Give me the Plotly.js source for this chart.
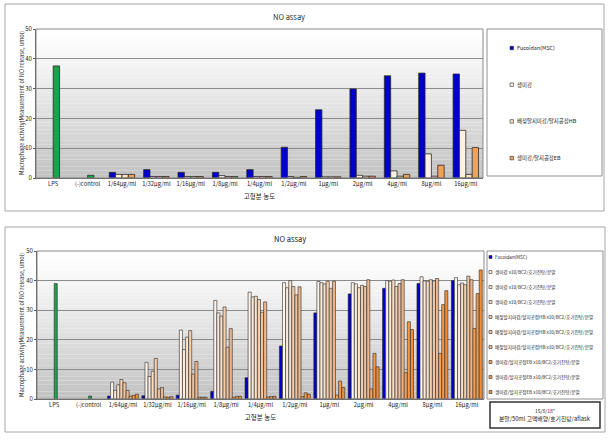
<!DOCTYPE html>
<html><head><meta charset="utf-8">
<script src="https://cdn.plot.ly/plotly-3.0.1.min.js"></script>
<style>html,body{margin:0;padding:0;background:#fff}#chart{width:614px;height:440px}</style>
</head><body><div id="chart"></div>
<script>
// ---------- data ----------
const categories = ["LPS","(-)control","1/64μg/ml","1/32μg/ml","1/16μg/ml","1/8μg/ml","1/4μg/ml","1/2μg/ml","1μg/ml","2μg/ml","4μg/ml","8μg/ml","16μg/ml"];

// top chart
const topControl   = [37.6, 0.9, null,null,null,null,null,null,null,null,null,null,null];
const topFucoidan  = [null,null, 1.9, 2.8, 1.9, 1.9, 2.8, 10.3, 22.9, 29.9, 34.3, 35.2, 34.9];
const topRaw       = [null,null, 1.2, 0.5, 0.5, 0.8, 0.5, 0.5, 0.4, 0.9, 2.4, 8.1, 16.0];
const topHB        = [null,null, 1.2, 0.5, 0.5, 0.5, 0.5, 0.2, 0.4, 0.6, 0.6, 0.6, 1.2];
const topEB        = [null,null, 1.2, 0.5, 0.5, 0.5, 0.5, 0.5, 0.4, 0.6, 1.2, 4.3, 10.2];
const topNames = ["Fucoidan(MSC)","생미강","배젖탈지미강/탈지공정HB","생미강/탈지공정EB"];

// bottom chart
const botControl  = [39.0, 1.0, null,null,null,null,null,null,null,null,null,null,null];
const botFucoidan = [null,null, 1.0, 1.1, 1.3, 2.6, 7.2, 17.9, 29.1, 35.5, 37.4, 39.0, 40.0];
const botRaw1     = [null,null, 5.7,12.4,23.3,33.3,36.1, 39.3, 39.7, 39.3, 40.0, 41.3, 41.0];
const botRaw2     = [null,null, 2.9, 7.6,16.7,29.1,34.5, 37.6, 39.3, 38.9, 39.8, 39.9, 38.6];
const botRaw3     = [null,null, 4.8, 9.4,20.9,28.0,34.7, 40.0, 38.9, 37.6, 40.2, 39.8, 39.2];
const botHB1      = [null,null, 6.6,13.7,23.1,31.1,33.6, 38.0, 39.8, 38.4, 38.0, 40.3, 38.6];
const botHB2      = [null,null, 5.5, 3.4, 8.4,17.5,29.3, 35.2, 37.4, 38.0, 39.0, 39.9, 41.5];
const botHB3      = [null,null, 2.9, 3.9,12.7,23.8,32.8, 37.9, 39.8, 40.3, 40.3, 40.7, 40.3];
const botEB1      = [null,null, 1.0, 0.7, 0.6, 0.6, 0.7, 0.8, 1.3, 3.4, 8.9, 15.4, 23.8];
const botEB2      = [null,null, 1.2, 0.6, 0.6, 0.9, 0.9, 2.1, 6.1, 15.4, 26.1, 31.9, 35.6];
const botEB3      = [null,null, 1.6, 0.8, 0.6, 0.9, 0.9, 1.6, 3.9, 10.9, 23.5, 36.6, 43.6];
const botNames = ["Fucoidan(MSC)",
  "생미강 x10/BC2/호기진탕/분말","생미강 x10/BC2/호기진탕/분말","생미강 x10/BC2/호기진탕/분말",
  "배젖탈지미강/탈지공정HB x10/BC2/호기진탕/분말","배젖탈지미강/탈지공정HB x10/BC2/호기진탕/분말","배젖탈지미강/탈지공정HB x10/BC2/호기진탕/분말",
  "생미강/탈지공정EB x10/BC2/호기진탕/분말","생미강/탈지공정EB x10/BC2/호기진탕/분말","생미강/탈지공정EB x10/BC2/호기진탕/분말"];

const chartTitle = "NO assay";
const xTitle = "고형분 농도";
const yTitle = "Macrophage activity(Measurement of NO release, umol)";
const noteLines = ['15/8/18"', '분말/50ml 고액배양/호기진탕/aflask'];

// ---------- styling ----------
const W = 614, H = 440;
const px = x => x / W, py = y => 1 - y / H;
const FONT = "'Noto Sans CJK KR', 'Noto Sans', sans-serif";
const green = "#1aa34a";
const topColors = ["#0000cc", "#fdf0e4", "#fbe0c8", "#f5a057"];
const botColors = ["#0000c8", "#fdf4ea", "#fbebdc", "#f8e0ca", "#f3cfae", "#efc39e", "#ebb68e", "#f5a35a", "#f2984a", "#ee8e3c"];

const traces = [];
function addBar(y, color, xa, ya, offset, width, name, lineW) {
  traces.push({
    type: "bar", x: categories, y: y, name: name, xaxis: xa, yaxis: ya,
    offset: offset, width: width, showlegend: false,
    marker: { color: color, line: { color: "#2a2a2a", width: lineW } },
    hovertemplate: "%{x}: %{y}<extra>" + name + "</extra>"
  });
}
// top: 4 series grouped, green control at centre slot
const tw = 0.185;
addBar(topControl, green, "x", "y", 0, tw, "LPS/(-)control", 0.8);
[topFucoidan, topRaw, topHB, topEB].forEach((s, i) =>
  addBar(s, topColors[i], "x", "y", -2 * tw + i * tw, tw, topNames[i], 0.8));
// bottom: 10 series grouped
const bw = 0.09;
addBar(botControl, green, "x2", "y2", 0, bw, "LPS/(-)control", 0.6);
[botFucoidan, botRaw1, botRaw2, botRaw3, botHB1, botHB2, botHB3, botEB1, botEB2, botEB3].forEach((s, i) =>
  addBar(s, botColors[i], "x2", "y2", -5 * bw + i * bw, bw, botNames[i], 0.6));

// ---------- shapes ----------
const shapes = [];
function gradient(xref, yref) {
  const N = 40;
  for (let i = 0; i < N; i++) {
    const t = 1 - (i + 0.5) / N; // 1 at bottom
    const v = Math.round(255 - 62 * Math.pow(t, 1.2));
    shapes.push({ type: "rect", xref: xref + " domain", yref: yref + " domain",
      x0: 0, x1: 1, y0: i / N, y1: (i + 1) / N,
      fillcolor: `rgb(${v},${v},${v})`, line: { width: 0 }, layer: "below" });
  }
  shapes.push({ type: "rect", xref: xref + " domain", yref: yref + " domain",
    x0: 0, x1: 1, y0: 0, y1: 1, line: { color: "#8a8a8a", width: 1 }, fillcolor: "rgba(0,0,0,0)", layer: "above" });
}
gradient("x", "y");
gradient("x2", "y2");
function box(x0, y0, x1, y1, color, w) {
  shapes.push({ type: "rect", xref: "paper", yref: "paper",
    x0: px(x0), x1: px(x1), y0: py(y1), y1: py(y0),
    line: { color: color, width: w }, fillcolor: "rgba(0,0,0,0)" });
}
box(5, 4, 604, 211, "#a6a6a6", 1);     // top outer frame
box(5, 227, 605, 432, "#a6a6a6", 1);   // bottom outer frame
box(487, 29, 602, 176, "#909090", 1);  // top legend
box(487, 251, 603, 399, "#909090", 1); // bottom legend
box(490, 402, 600, 428, "#333333", 1.5); // note box

// ---------- legends (manual) ----------
const annotations = [];
function legendItem(xIcon, yc, size, color, text, fs) {
  shapes.push({ type: "rect", xref: "paper", yref: "paper",
    x0: px(xIcon), x1: px(xIcon + size), y0: py(yc + size / 2), y1: py(yc - size / 2),
    fillcolor: color, line: { color: "#333", width: 0.6 } });
  annotations.push({ xref: "paper", yref: "paper", x: px(xIcon + size + 1), y: py(yc),
    xanchor: "left", yanchor: "middle", text: text, showarrow: false,
    font: { family: FONT, size: fs, color: "#222" } });
}
topNames.forEach((n, i) => legendItem(510, 48 + i * 36.7, 3.5, topColors[i], n, 5.4));
botNames.forEach((n, i) => legendItem(489, 257 + i * 15, 3, botColors[i], n, 4.6));

function text(x, y, t, fs, angle) {
  annotations.push({ xref: "paper", yref: "paper", x: px(x), y: py(y), xanchor: "center", yanchor: "middle",
    text: t, showarrow: false, textangle: angle || 0, font: { family: FONT, size: fs, color: "#222" } });
}
text(545, 410, noteLines[0], 5);
text(545, 418, noteLines[1], 5.8);
text(290, 238, chartTitle, 7.5);
// y-axis titles
text(22, 103, yTitle, 5.6, -90);
text(22, 325, yTitle, 5.6, -90);

// ---------- axes ----------
function xAxis(domain, anchor) {
  return { domain: domain, anchor: anchor, type: "category", range: [-0.5, 12.5],
    showgrid: false, showline: true, linecolor: "#555", linewidth: 1, ticks: "",
    tickfont: { family: FONT, size: 5.8, color: "#222" }, automargin: false,
    title: { text: xTitle, font: { family: FONT, size: 6.5, color: "#222" }, standoff: 7 } };
}
function yAxis(domain, anchor) {
  return { domain: domain, anchor: anchor, range: [0, 50], dtick: 10, tick0: 0,
    showgrid: true, gridcolor: "#8c8c8c", gridwidth: 1, zeroline: false,
    showline: true, linecolor: "#555", ticks: "outside", ticklen: 2, tickcolor: "#555",
    tickfont: { family: FONT, size: 6, color: "#222" }, automargin: false };
}

const layout = {
  width: W, height: H, margin: { l: 0, r: 0, t: 0, b: 0 },
  paper_bgcolor: "#ffffff", plot_bgcolor: "rgba(0,0,0,0)",
  barmode: "overlay", showlegend: false,
  font: { family: FONT, color: "#222" },
  title: { text: chartTitle, x: px(289), xanchor: "center", y: py(17), yanchor: "middle", yref: "paper",
    font: { family: FONT, size: 7.5, color: "#333" } },
  xaxis: xAxis([px(36), px(483)], "y"),
  yaxis: yAxis([py(178), py(29)], "x"),
  xaxis2: xAxis([px(37), px(484)], "y2"),
  yaxis2: yAxis([py(399), py(251)], "x2"),
  shapes: shapes, annotations: annotations
};

Plotly.newPlot("chart", traces, layout, { displayModeBar: false, staticPlot: true });
</script></body></html>
